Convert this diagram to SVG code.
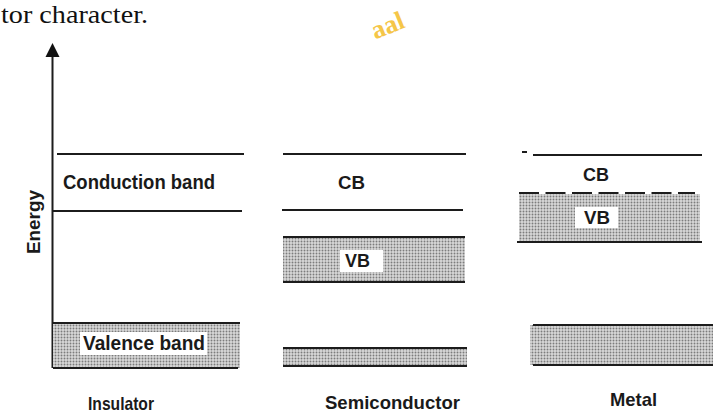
<svg xmlns="http://www.w3.org/2000/svg" width="718" height="414" viewBox="0 0 718 414">
<defs>
<pattern id="dots" width="3" height="3" patternUnits="userSpaceOnUse">
<rect width="3" height="3" fill="#d9d9d9"/>
<circle cx="1.5" cy="1.5" r="0.95" fill="#7c7c7c"/>
</pattern>
</defs>
<style>
.ln{stroke:#1c1c1c;stroke-width:2;fill:none}
.band{fill:url(#dots)}
.lbl{font-family:"Liberation Sans",Arial,sans-serif;font-weight:bold;fill:#1a1a1a}
.box{fill:#fff}
</style>
<rect width="718" height="414" fill="#fff"/>
<text x="1" y="23" font-family="'Liberation Serif','Times New Roman',serif" font-size="26" fill="#111" textLength="147" lengthAdjust="spacingAndGlyphs">tor character.</text>
<text x="370" y="32" transform="rotate(-22 392 22)" font-family="'Liberation Serif',serif" font-weight="bold" font-size="26" fill="#f5c648">aal</text>

<g id="connectors">
<line class="ln" x1="52.5" y1="368" x2="52.5" y2="54"/>
<polygon points="52.5,43 59.5,57 45.5,57" fill="#111"/>
<text class="lbl" x="40" y="222" font-size="19" text-anchor="middle" transform="rotate(-90 40 222)" textLength="64" lengthAdjust="spacingAndGlyphs">Energy</text>
</g>

<g id="insulator">
<line class="ln" x1="57" y1="154" x2="244" y2="154"/>
<text class="lbl" x="63" y="189" font-size="20.5" textLength="152" lengthAdjust="spacingAndGlyphs">Conduction band</text>
<line class="ln" x1="53" y1="211" x2="242" y2="211"/>
<rect class="band" x="53" y="323" width="187" height="45"/>
<line class="ln" x1="53" y1="323" x2="240" y2="323"/>
<line class="ln" x1="53" y1="368" x2="238" y2="368"/>
<rect class="box" x="80" y="332" width="127" height="23"/>
<text class="lbl" x="83" y="350" font-size="20" textLength="122" lengthAdjust="spacingAndGlyphs">Valence band</text>
<text class="lbl" x="88" y="410" font-size="19" textLength="66" lengthAdjust="spacingAndGlyphs">Insulator</text>
</g>

<g id="semiconductor">
<line class="ln" x1="283" y1="154" x2="466" y2="154"/>
<text class="lbl" x="338" y="189" font-size="19" textLength="27" lengthAdjust="spacingAndGlyphs">CB</text>
<line class="ln" x1="282" y1="210" x2="463" y2="210"/>
<rect class="band" x="283" y="237" width="182" height="45"/>
<line class="ln" x1="283" y1="237" x2="465" y2="237"/>
<line class="ln" x1="283" y1="282" x2="465" y2="282"/>
<rect class="box" x="340" y="250" width="43" height="22"/>
<text class="lbl" x="345" y="267" font-size="19" textLength="25" lengthAdjust="spacingAndGlyphs">VB</text>
<rect class="band" x="283" y="348" width="184" height="18"/>
<line class="ln" x1="283" y1="348" x2="467" y2="348"/>
<line class="ln" x1="283" y1="366" x2="467" y2="366"/>
<text class="lbl" x="325" y="409" font-size="19" textLength="135" lengthAdjust="spacingAndGlyphs">Semiconductor</text>
</g>

<g id="metal">
<line class="ln" x1="522" y1="152" x2="527" y2="152"/>
<line class="ln" x1="533" y1="155" x2="702" y2="155"/>
<text class="lbl" x="583" y="181" font-size="19" textLength="26" lengthAdjust="spacingAndGlyphs">CB</text>
<rect class="band" x="519" y="194" width="181" height="48"/>
<line class="ln" x1="519" y1="193" x2="695" y2="193" stroke-dasharray="20 6.5"/>
<line class="ln" x1="517" y1="242" x2="702" y2="242"/>
<rect class="box" x="575" y="207" width="43" height="21"/>
<text class="lbl" x="584" y="224" font-size="19" textLength="26" lengthAdjust="spacingAndGlyphs">VB</text>
<rect class="band" x="530" y="325" width="183" height="40"/>
<line class="ln" x1="533" y1="325" x2="713" y2="325"/>
<line class="ln" x1="533" y1="365" x2="713" y2="365"/>
<text class="lbl" x="610" y="406" font-size="19" textLength="47" lengthAdjust="spacingAndGlyphs">Metal</text>
</g>
</svg>
